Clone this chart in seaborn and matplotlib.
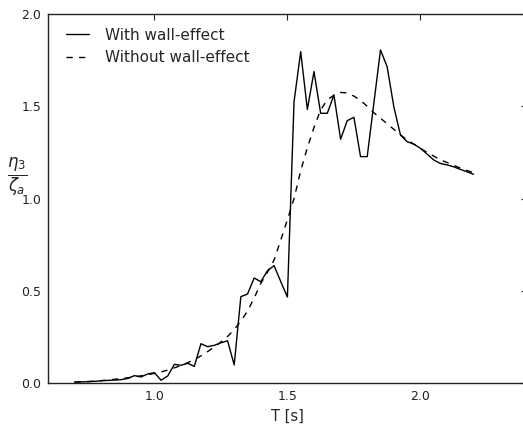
import numpy as np
import pandas as pd
import seaborn as sns
import matplotlib.pyplot as plt

# wave period [s]
period = np.round(np.arange(0.7, 2.2001, 0.025), 3)

# response ratio, one value per period
with_wall = [
    0.005, 0.006, 0.007, 0.009, 0.012, 0.014, 0.016, 0.018, 0.025, 0.040,
    0.033, 0.049, 0.056, 0.015, 0.038, 0.101, 0.096, 0.107, 0.090, 0.213,
    0.197, 0.204, 0.218, 0.229, 0.098, 0.468, 0.482, 0.569, 0.549, 0.609,
    0.636, 0.550, 0.466, 1.525, 1.796, 1.483, 1.688, 1.462, 1.462, 1.561,
    1.321, 1.422, 1.440, 1.227, 1.227, 1.516, 1.805, 1.714, 1.498, 1.344,
    1.308, 1.295, 1.272, 1.241, 1.209, 1.190, 1.182, 1.172, 1.158, 1.145,
    1.131,
]
without_wall = [
    0.005, 0.006, 0.008, 0.010, 0.013, 0.016, 0.020, 0.024, 0.028, 0.033,
    0.039, 0.045, 0.052, 0.060, 0.070, 0.082, 0.095, 0.110, 0.127, 0.147,
    0.170, 0.195, 0.222, 0.252, 0.290, 0.335, 0.390, 0.460, 0.540, 0.600,
    0.667, 0.775, 0.885, 1.000, 1.150, 1.275, 1.385, 1.480, 1.535, 1.560,
    1.575, 1.572, 1.555, 1.532, 1.500, 1.465, 1.435, 1.405, 1.375, 1.345,
    1.318, 1.295, 1.272, 1.250, 1.230, 1.210, 1.195, 1.180, 1.165, 1.152,
    1.140,
]

df = pd.DataFrame({'T': period, 'with': with_wall, 'without': without_wall})

sns.set_style('white')
plt.rcParams['font.family'] = ['DejaVu Sans']

fig = plt.figure(figsize=(5.23, 4.26), dpi=100)
ax = fig.add_axes([48 / 523, 43 / 426, 478.8 / 523, 369 / 426])

sns.lineplot(data=df, x='T', y='with', color='black', linewidth=1,
             label='With wall-effect', ax=ax)
sns.lineplot(data=df, x='T', y='without', color='black', linewidth=1,
             linestyle='--', label='Without wall-effect', ax=ax)
ax.lines[1].set_dashes([4.5, 4.5])

ax.set_xlim(0.6, 2.4)
ax.set_ylim(0, 2.0)
ax.set_xticks([1.0, 1.5, 2.0])
ax.set_yticks([0.0, 0.5, 1.0, 1.5, 2.0])
ax.tick_params(direction='in', top=True, right=True, length=4, width=0.8,
               labelsize=9, colors='#222222', pad=5)
for s in ax.spines.values():
    s.set_color('#222222')
    s.set_linewidth(1)

ax.set_xlabel('T [s]', fontsize=10.5)
ax.set_ylabel(r'$\frac{\eta_3}{\zeta_a}$', fontsize=17, rotation=0)
ax.yaxis.set_label_coords(-0.065, 0.5)

leg = ax.legend(loc='upper left', bbox_to_anchor=(0.0096, 1.0), frameon=False,
                fontsize=11, handlelength=1.5, handletextpad=1.0)
leg.get_lines()[1].set_dashes([4.5, 4.5])

fig.savefig('out.png', dpi=100)
